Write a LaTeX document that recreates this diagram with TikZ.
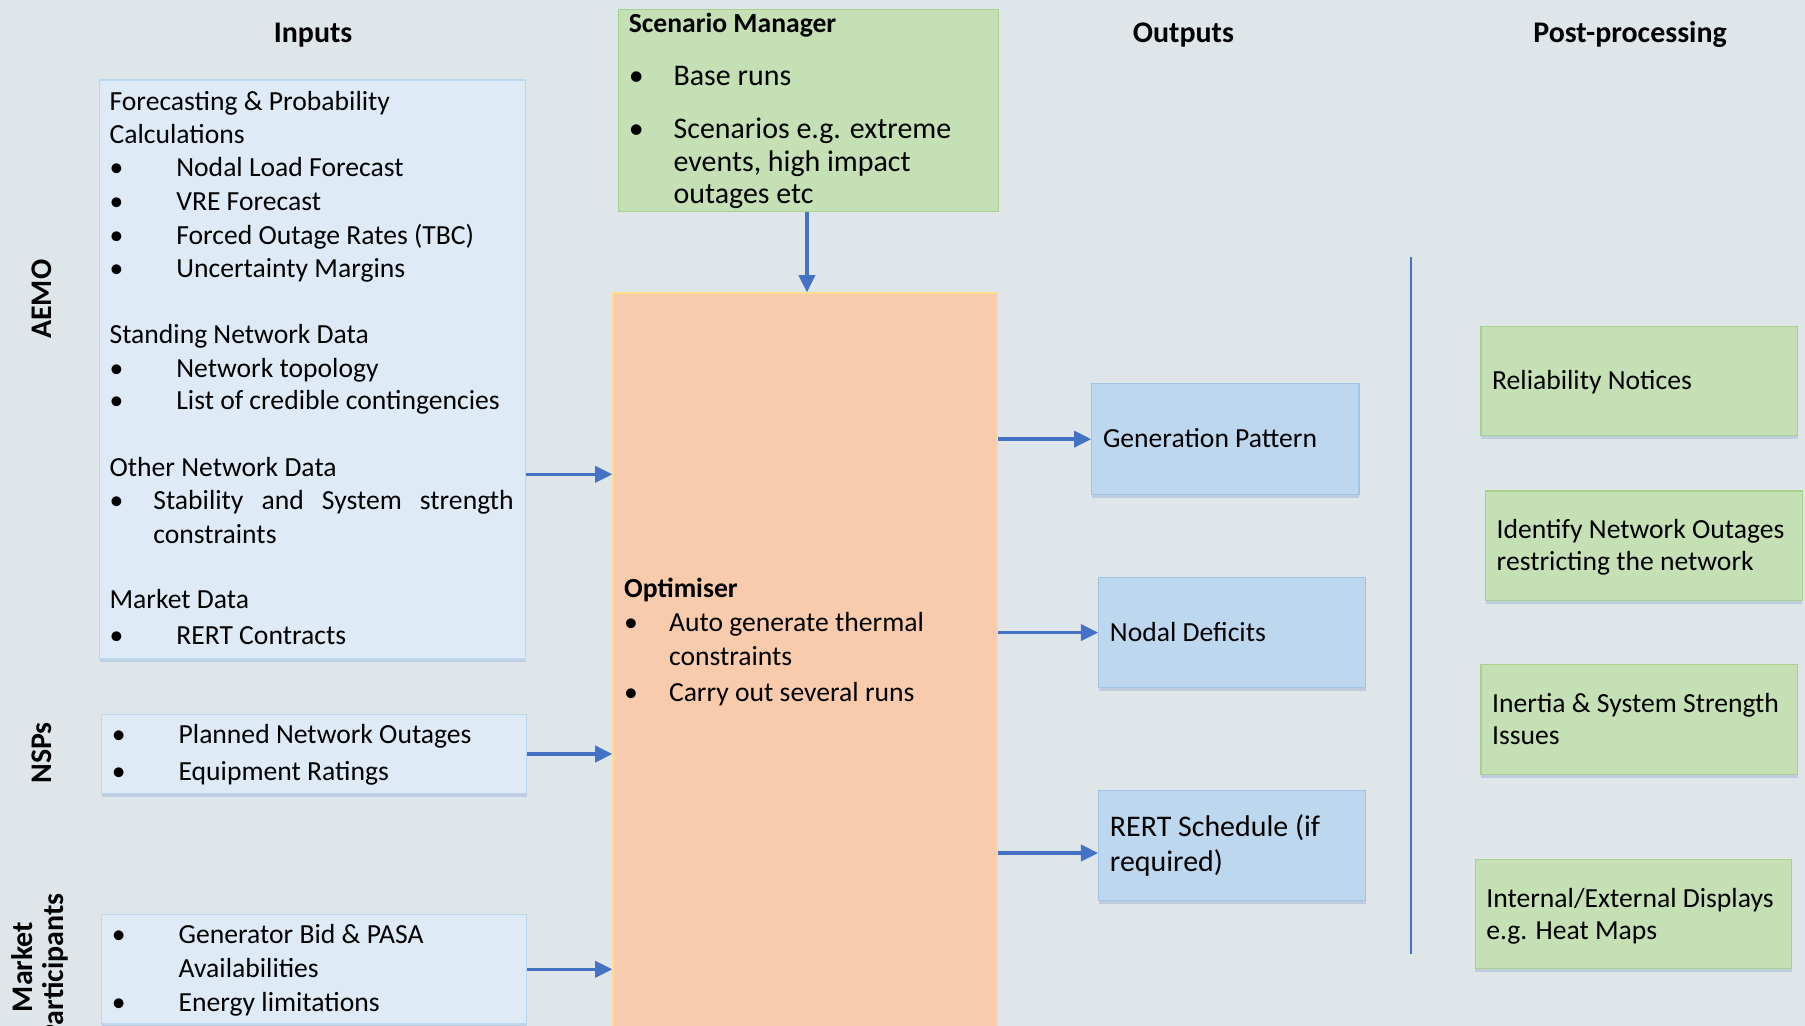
\documentclass[tikz,border=0pt]{standalone}
\usepackage{fontspec}
\setmainfont{Carlito}
\usetikzlibrary{arrows.meta,shadows}
\definecolor{bgc}{RGB}{223,230,233}
\definecolor{lblue}{RGB}{222,235,247}
\definecolor{lblueb}{RGB}{189,215,238}
\definecolor{mblue}{RGB}{189,215,238}
\definecolor{mblueb}{RGB}{160,196,230}
\definecolor{lgreen}{RGB}{197,224,180}
\definecolor{lgreenb}{RGB}{169,209,142}
\definecolor{peach}{RGB}{248,203,173}
\definecolor{peachb}{RGB}{255,222,140}
\definecolor{arrowc}{RGB}{68,114,196}
\definecolor{shadc}{RGB}{110,140,200}
\newcommand\fsz{\fontsize{24}{29}\selectfont}
\newcommand\fsl{\fontsize{26}{31}\selectfont}
\newcommand\bul[1]{\makebox[#1][l]{\textbullet}}
\begin{document}
\begin{tikzpicture}[x=1pt,y=-1pt,
 box/.style={anchor=north west,inner sep=0pt,line width=1pt},
 shad/.style={drop shadow={shadow xshift=0pt,shadow yshift=-3pt,opacity=.28,fill=shadc}},
 inbox/.style={box,fill=lblue,draw=lblueb,shad},
 outbox/.style={box,fill=mblue,draw=mblueb,minimum width=232pt,minimum height=96pt,shad},
 postbox/.style={box,fill=lgreen,draw=lgreenb,minimum width=275pt,minimum height=95pt,shad},
 txt/.style={anchor=base west,inner sep=0pt,font=\fsz,yshift=-1pt},
 txtl/.style={anchor=base west,inner sep=0pt,font=\fsl,yshift=-1pt},
 txtb/.style={anchor=base west,inner sep=0pt,font=\fsz\bfseries,yshift=-1pt},
 hd/.style={anchor=base,inner sep=0pt,font=\fontsize{26}{31}\selectfont\bfseries},
 side/.style={rotate=90,inner sep=0pt,align=center,font=\fontsize{26}{27}\selectfont\bfseries},
 arr/.style={draw=arrowc,line width=3pt,-{Triangle[length=15pt,width=14pt]}},
 vline/.style={draw=arrowc,line width=2pt}]
\clip (0,0) rectangle (1568,891);
\fill[bgc] (0,0) rectangle (1568,891);

% headings
\node[hd] (hin) at (272,37) {Inputs};
\node[hd] (hout) at (1028,37) {Outputs};
\node[hd] (hpost) at (1416,37) {Post-processing};

% side labels
\node[side] (laemo) at (36,260) {AEMO};
\node[side] (lnsp) at (36,654) {NSPs};
\node[side] (lmp) at (35,840) {Market\\Participants};

% input boxes
\node[inbox,minimum width=370pt,minimum height=503pt] (aemo) at (86,69) {};
\node[inbox,minimum width=369pt,minimum height=69pt] (nsp) at (88,620) {};
\node[inbox,minimum width=369pt,minimum height=95pt] (mkt) at (88,794) {};

% scenario manager
\node[box,fill=lgreen,draw=lgreenb,minimum width=330pt,minimum height=175pt] (sm) at (537,8) {};
% optimiser
\node[box,fill=peach,draw=peachb,minimum width=334pt,minimum height=645pt] (opt) at (532,254) {};

% output boxes
\node[outbox] (gen) at (948,333) {};
\node[outbox] (nod) at (954,501) {};
\node[outbox] (rert) at (954,686) {};

% post boxes
\node[postbox] (rel) at (1286,283) {};
\node[postbox] (idn) at (1290,426) {};
\node[postbox] (ine) at (1286,577) {};
\node[postbox] (ied) at (1281,746) {};

% AEMO text
\node[txt] (a1) at (95,95) {Forecasting \& Probability};
\node[txt] (a2) at (95,124) {Calculations};
\node[txt] (a3) at (95,152) {\bul{58pt}Nodal Load Forecast};
\node[txt] (a4) at (95,182) {\bul{58pt}VRE Forecast};
\node[txt] (a5) at (95,211) {\bul{58pt}Forced Outage Rates (TBC)};
\node[txt] (a6) at (95,240) {\bul{58pt}Uncertainty Margins};
\node[txt] (a7) at (95,297) {Standing Network Data};
\node[txt] (a8) at (95,327) {\bul{58pt}Network topology};
\node[txt] (a9) at (95,355) {\bul{58pt}List of credible contingencies};
\node[txt] (a10) at (95,413) {Other Network Data};
\node[txt] (a11) at (95,442) {\bul{38pt}\makebox[313pt][s]{Stability and System strength}};
\node[txt] (a12) at (133,471) {constraints};
\node[txt] (a13) at (95,528) {Market Data};
\node[txt] (a14) at (95,559) {\bul{58pt}RERT Contracts};

% NSP text
\node[txt] (n1) at (97,645) {\bul{58pt}Planned Network Outages};
\node[txt] (n2) at (97,677) {\bul{58pt}Equipment Ratings};

% Market participants text
\node[txt] (m1) at (97,819) {\bul{58pt}Generator Bid \& PASA};
\node[txt] (m2) at (155,848) {Availabilities};
\node[txt] (m3) at (97,878) {\bul{58pt}Energy limitations};

% scenario manager text
\node[txtb] (s0) at (546,27) {Scenario Manager};
\node[txtl] (s1) at (546,73) {\bul{39pt}Base runs};
\node[txtl] (s2) at (546,119) {\bul{39pt}Scenarios e.g. extreme};
\node[txtl] (s3) at (585,148) {events, high impact};
\node[txtl] (s4) at (585,176) {outages etc};

% optimiser text
\node[txtb] (o0) at (542,518) {Optimiser};
\node[txt] (o1) at (542,548) {\bul{39pt}Auto generate thermal};
\node[txt] (o2) at (581,577) {constraints};
\node[txt] (o3) at (542,608) {\bul{39pt}Carry out several runs};

% output text
\node[txt] (g1) at (958,388) {Generation Pattern};
\node[txt] (d1) at (964,556) {Nodal Deficits};
\node[txtl] (r1) at (964,726) {RERT Schedule (if};
\node[txtl] (r2) at (964,756) {required)};

% post text
\node[txt] (p1) at (1296,337) {Reliability Notices};
\node[txt] (p2) at (1300,467) {Identify Network Outages};
\node[txt] (p3) at (1300,495) {restricting the network};
\node[txt] (p4) at (1296,618) {Inertia \& System Strength};
\node[txt] (p5) at (1296,646) {Issues};
\node[txt] (p6) at (1291,787) {Internal/External Displays};
\node[txt] (p7) at (1291,815) {e.g. Heat Maps};

% connectors
\draw[arr] (sm.south -| 701,0) -- (opt.north -| 701,0);
\draw[arr] (aemo.east |- 0,412) -- (opt.west |- 0,412);
\draw[arr] (nsp.east) -- (opt.west |- nsp.east);
\draw[arr] (mkt.east) -- (opt.west |- mkt.east);
\draw[arr] (opt.east |- gen.west) -- (gen.west);
\draw[arr] (opt.east |- nod.west) -- (nod.west);
\draw[arr] (opt.east |- 0,741) -- (rert.west |- 0,741);

% divider
\coordinate (vt) at (1226,223);
\coordinate (vb) at (1226,829);
\draw[vline] (vt) -- (vb);
\end{tikzpicture}
\end{document}
